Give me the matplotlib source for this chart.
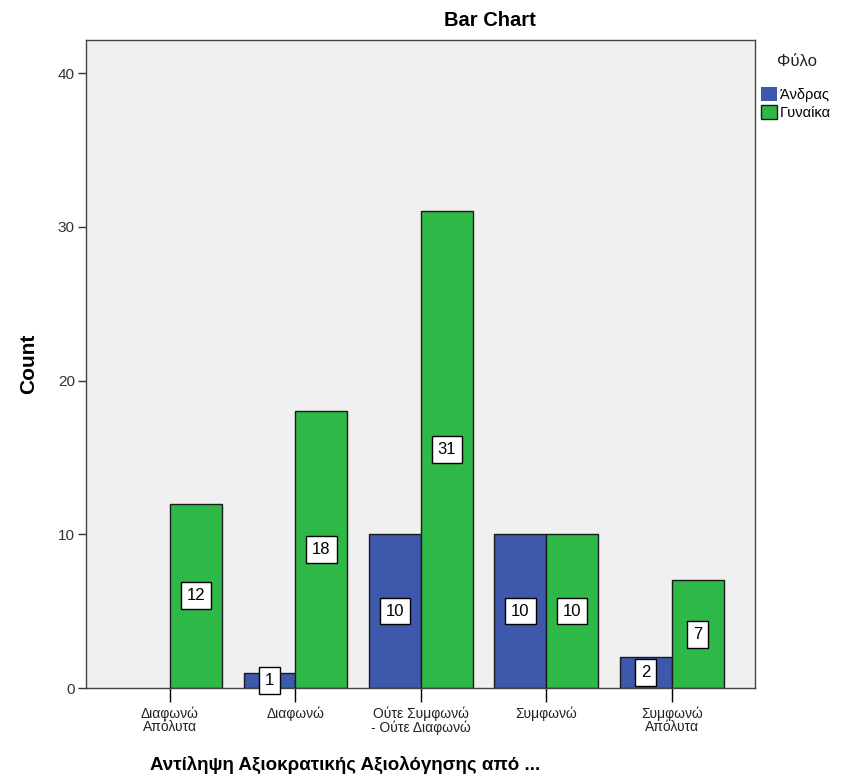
import matplotlib.pyplot as plt
import numpy as np

plt.rcParams['font.family'] = ['Liberation Sans', 'DejaVu Sans']

categories = ['Διαφωνώ\nΑπόλυτα', 'Διαφωνώ', 'Ούτε Συμφωνώ\n- Ούτε Διαφωνώ', 'Συμφωνώ', 'Συμφωνώ\nΑπόλυτα']
andras = [0, 1, 10, 10, 2]
gynaika = [12, 18, 31, 10, 7]
series = ['Άνδρας', 'Γυναίκα']

blue = '#3E58AC'
green = '#2EB848'

fig = plt.figure(figsize=(8.47, 7.83), dpi=100)
ax = fig.add_axes([0.1015, 0.1213, 0.7895, 0.8276])
ax.set_facecolor('#F0F0F0')

x = np.arange(len(categories))
w = 0.414
b1 = ax.bar(x - w / 2, andras, w, color=blue, edgecolor='#1a1a1a', linewidth=1, label=series[0], zorder=2)
b2 = ax.bar(x + w / 2, gynaika, w, color=green, edgecolor='#1a1a1a', linewidth=1, label=series[1], zorder=2)

box = dict(boxstyle='square,pad=0.35', facecolor='white', edgecolor='black', linewidth=1)
for bars, vals in [(b1, andras), (b2, gynaika)]:
    for rect, v in zip(bars, vals):
        if v == 0:
            rect.set_linewidth(0)
            continue
        ax.text(rect.get_x() + rect.get_width() / 2, v / 2, str(v), ha='center', va='center',
                fontsize=12, bbox=box, zorder=3)

ax.set_xlim(-0.67, 4.66)
ax.set_ylim(0, 42.15)
ax.set_yticks([0, 10, 20, 30, 40])
ax.set_xticks(x)
ax.set_xticklabels(categories, fontsize=10, linespacing=0.95, color='#222222')
ax.tick_params(axis='y', labelsize=11, colors='#333333', length=6, width=1, pad=2)
ax.tick_params(axis='x', length=10, width=1, pad=3)
for s in ax.spines.values():
    s.set_color('#444444')
    s.set_linewidth(1)

ax.set_ylabel('Count', fontsize=15, fontweight='bold', labelpad=14)
fig.text(0.407, 1 - 765 / 783, 'Αντίληψη Αξιοκρατικής Αξιολόγησης από ...', ha='center', va='center',
         fontsize=13.5, fontweight='bold')
fig.text(0.578, 1 - 20 / 783, 'Bar Chart', ha='center', va='center', fontsize=14.5, fontweight='bold')

fig.text(797 / 847, 1 - 62 / 783, 'Φύλο', ha='center', va='center', fontsize=12, color='#222222')
leg = fig.legend(handles=[b1, b2], labels=series, loc='upper left',
                 bbox_to_anchor=(761 / 847, 1 - 87 / 783), frameon=False, fontsize=10.5,
                 handlelength=1.1, handleheight=1.1,
                 handletextpad=0.2, labelspacing=0.2, borderpad=0.0, borderaxespad=0)

fig.savefig('out.png', dpi=100)
